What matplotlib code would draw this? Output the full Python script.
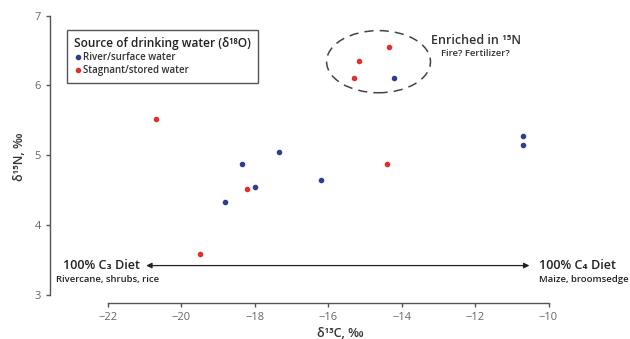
import matplotlib.pyplot as plt
from matplotlib.patches import Ellipse
from matplotlib.lines import Line2D

plt.rcParams['font.family'] = ['Open Sans', 'DejaVu Sans']

# river / surface water samples (blue)
river_c13 = [-14.2, -10.7, -10.7, -18.35, -17.35, -18.8, -18.0, -16.2]
river_n15 = [6.11, 5.27, 5.14, 4.88, 5.05, 4.33, 4.55, 4.65]

# stagnant / stored water samples (red)
stag_c13 = [-20.7, -19.5, -18.2, -14.35, -15.15, -15.3, -14.4]
stag_n15 = [5.52, 3.58, 4.51, 6.55, 6.35, 6.11, 4.88]

xticks = [-22, -20, -18, -16, -14, -12, -10]
yticks = [3, 4, 5, 6, 7]

blue = '#2e3f8f'
red = '#e1302c'
grey = '#555555'

fig = plt.figure(figsize=(6.3, 3.39), dpi=100)
ax = fig.add_axes([50/630, 1-303/339, 580/630, 293/339])
ax.set_xlim(-23.58, -7.78)
ax.set_ylim(2.884, 7.08)

ax.scatter(river_c13, river_n15, s=9, color=blue, zorder=3)
ax.scatter(stag_c13, stag_n15, s=9, color=red, zorder=3)

for side in ['top', 'right']:
    ax.spines[side].set_visible(False)
ax.spines['left'].set_bounds(3, 7)
ax.spines['bottom'].set_bounds(-22, -10)
for side in ['left', 'bottom']:
    ax.spines[side].set_color(grey)
    ax.spines[side].set_linewidth(1.0)
ax.set_xticks(xticks)
ax.set_xticklabels(['\u2212' + str(abs(t)) for t in xticks])
ax.set_yticks(yticks)
ax.tick_params(colors=grey, labelcolor='#666666', labelsize=8, length=3, width=1)

ax.set_xlabel('δ¹³C, ‰', fontsize=9, color='#333333', labelpad=3, fontweight='semibold')
ax.set_ylabel('δ¹⁵N, ‰', fontsize=9, color='#333333', labelpad=6, fontweight='semibold')

# C3 <-> C4 arrow
ax.annotate('', xy=(-20.96, 3.42), xytext=(-10.52, 3.42),
            arrowprops=dict(arrowstyle='<|-|>', color='#222222', lw=0.9,
                            mutation_scale=8, shrinkA=0, shrinkB=0))
ax.text(-21.12, 3.42, '100% C₃ Diet', ha='right', va='center', fontsize=9,
        color='#222222', fontweight='semibold')
ax.text(-20.62, 3.22, 'Rivercane, shrubs, rice', ha='right', va='center', fontsize=6.8,
        color='#222222', fontweight='semibold')
ax.text(-10.25, 3.42, '100% C₄ Diet', ha='left', va='center', fontsize=9,
        color='#222222', fontweight='semibold')
ax.text(-10.25, 3.22, 'Maize, broomsedge', ha='left', va='center', fontsize=6.8,
        color='#222222', fontweight='semibold')

# enriched cluster
ax.add_patch(Ellipse((-14.63, 6.34), 2.83, 0.89, fill=False, ls=(0, (6, 4)),
                     ec='#444444', lw=1.1))
ax.text(-11.98, 6.64, 'Enriched in ¹⁵N', ha='center', va='center', fontsize=9,
        color='#333333', fontweight='semibold')
ax.text(-11.98, 6.45, 'Fire? Fertilizer?', ha='center', va='center', fontsize=6.8,
        color='#333333', fontweight='semibold')

handles = [Line2D([], [], marker='o', ls='', ms=3, color=blue, label='River/surface water'),
           Line2D([], [], marker='o', ls='', ms=3, color=red, label='Stagnant/stored water')]
leg = ax.legend(handles=handles, title='Source of drinking water (δ¹⁸O)', loc='upper left',
                bbox_to_anchor=(0.029, 0.932), borderaxespad=0,
                title_fontsize=8.6, fancybox=False, edgecolor='#555555',
                handletextpad=0.1, handlelength=0.8, labelspacing=0.2, borderpad=0.75,
                alignment='left', framealpha=1,
                prop={'size': 7, 'weight': 'semibold'})
leg.get_frame().set_linewidth(1.0)
leg.get_title().set_color('#222222')
leg.get_title().set_fontweight('semibold')
for t in leg.get_texts():
    t.set_color('#333333')

fig.savefig('out.png', dpi=100)
